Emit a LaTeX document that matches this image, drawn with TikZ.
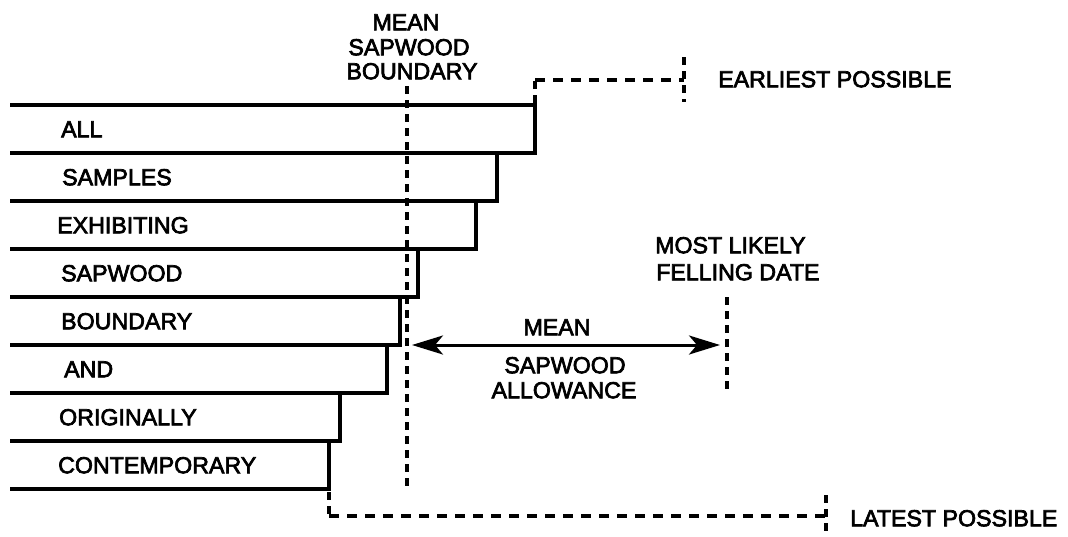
\documentclass[tikz,border=0pt]{standalone}
\usepackage{fontspec}
\setmainfont[FakeBold=3]{Liberation Sans}
\usetikzlibrary{arrows.meta}
\begin{document}
\begin{tikzpicture}[x=1pt,y=-1pt,
  lbl/.style={font=\fontsize{23.2}{25}\selectfont, inner sep=0pt, text height=16.5pt, text depth=0pt},
  barline/.style={line width=3.2pt, line join=miter},
  dsh/.style={line width=3.4pt, dash pattern=on 10pt off 8pt},
  vdsh/.style={line width=3.4pt, dash pattern=on 8pt off 6pt},
  dblarrow/.style={line width=3pt, {Stealth[length=31pt,width=19pt,inset=8pt]}-{Stealth[length=31pt,width=19pt,inset=8pt]}},
]
\useasboundingbox (0,0) rectangle (1068,536);
% bars
\foreach \i/\xr/\t/\tx in {0/535/ALL/61, 1/497/SAMPLES/62, 2/476/EXHIBITING/57, 3/418/SAPWOOD/61, 4/400/BOUNDARY/61, 5/387/AND/64, 6/340/ORIGINALLY/59, 7/329/CONTEMPORARY/58}{
  \draw[barline] (10,{105+48*\i}) -- (\xr,{105+48*\i}) -- (\xr,{153+48*\i}) -- (10,{153+48*\i});
  \node[lbl, anchor=west] (bar\i) at (\tx,{129+48*\i}) {\t};
}
% mean sapwood boundary
\node[lbl] (mb1) at (406,22) {MEAN};
\node[lbl] (mb2) at (409,47) {SAPWOOD};
\node[lbl] (mb3) at (412,71) {BOUNDARY};
\coordinate (mbtop) at (407,86);
\coordinate (mbbot) at (407,490);
\draw[vdsh] (mbtop) -- (mbbot);
% earliest possible
\coordinate (e0) at (535,103);
\coordinate (e1) at (535,80);
\coordinate (e2) at (684,80);
\coordinate (etop) at (684,57);
\coordinate (ebot) at (684,102);
\draw[vdsh] (e0) -- (e1);
\draw[dsh] (e1) -- (e2);
\draw[vdsh] (etop) -- (ebot);
\node[lbl, anchor=west] (earliest) at (718,79) {EARLIEST POSSIBLE};
% latest possible
\coordinate (l0) at (329,492);
\coordinate (l1) at (329,516);
\coordinate (l2) at (826,516);
\coordinate (ltop) at (826,495);
\coordinate (lbot) at (826,536);
\draw[vdsh] (l0) -- (l1);
\draw[dsh] (l1) -- (l2);
\draw[vdsh] (ltop) -- (lbot);
\node[lbl, anchor=west] (latest) at (850,518) {LATEST POSSIBLE};
% most likely felling date
\node[lbl, anchor=west] (ml1) at (655,245) {MOST LIKELY};
\node[lbl, anchor=west] (ml2) at (656,272) {FELLING DATE};
\coordinate (mltop) at (727,297);
\coordinate (mlbot) at (727,393);
\draw[vdsh] (mltop) -- (mlbot);
% mean sapwood allowance
\coordinate (aL) at (412,345);
\coordinate (aR) at (720,345);
\draw[dblarrow] (aL) -- (aR);
\node[lbl] (ma1) at (557,327) {MEAN};
\node[lbl] (ma2) at (565,365) {SAPWOOD};
\node[lbl] (ma3) at (564,390) {ALLOWANCE};
\end{tikzpicture}
\end{document}
